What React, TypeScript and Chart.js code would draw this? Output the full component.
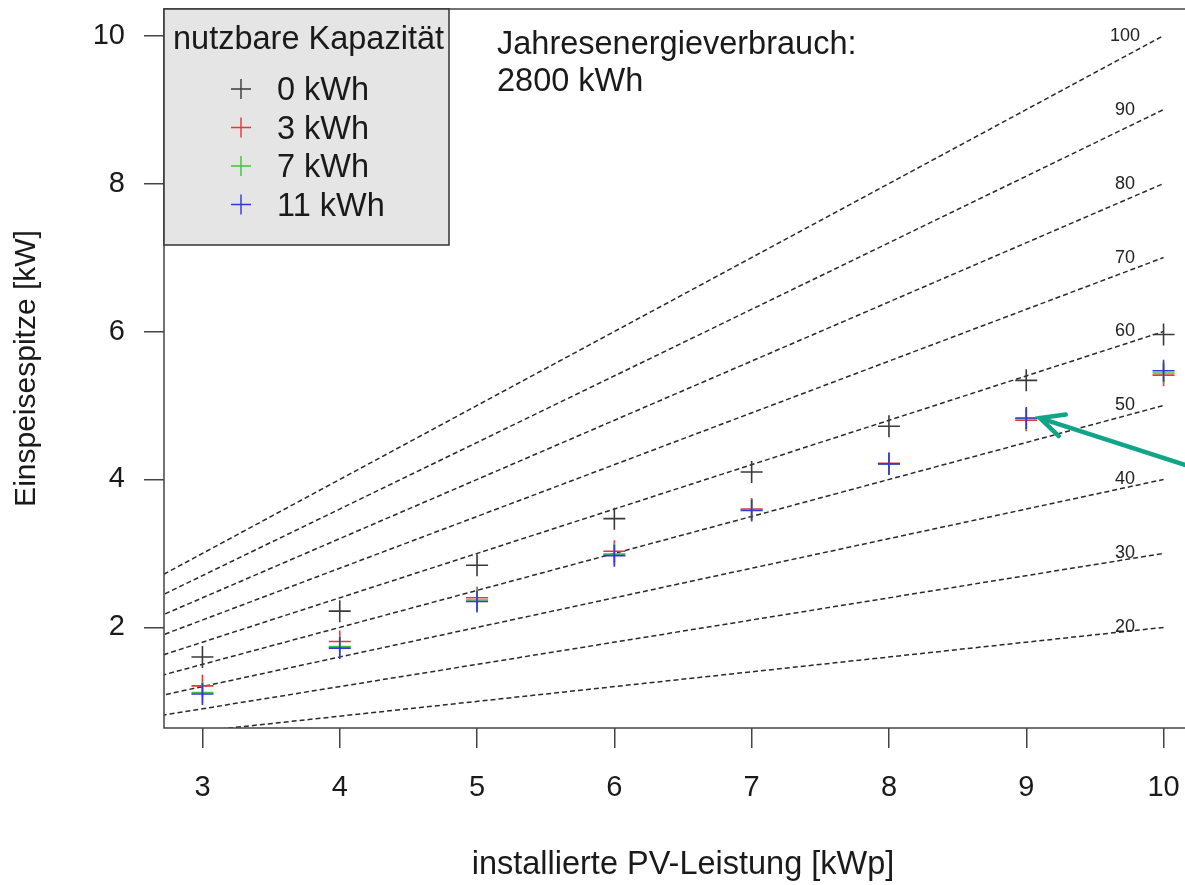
import { useEffect, useRef } from 'react';
import { Chart, registerables } from 'chart.js';

Chart.register(...registerables);

// ---------- data ----------
const PV_KWP = [3, 4, 5, 6, 7, 8, 9, 10];
const PEAK_0KWH = [1.6, 2.22, 2.84, 3.47, 4.1, 4.72, 5.34, 5.96];
const PEAK_3KWH = [1.21, 1.81, 2.4, 3.03, 3.6, 4.22, 4.8, 5.41];
const PEAK_7KWH = [1.12, 1.74, 2.37, 2.99, 3.59, 4.21, 4.82, 5.44];
const PEAK_11KWH = [1.1, 1.72, 2.35, 2.97, 3.58, 4.21, 4.83, 5.47];
const SHARE_PERCENT = [20, 30, 40, 50, 60, 70, 80, 90, 100];
const X_TICKS = [3, 4, 5, 6, 7, 8, 9, 10];
const Y_TICKS = [2, 4, 6, 8, 10];
const LEGEND_TITLE = 'nutzbare Kapazität';
const LEGEND_LABELS = ['0 kWh', '3 kWh', '7 kWh', '11 kWh'];
const NOTE_LINES = ['Jahresenergieverbrauch:', '2800 kWh'];
const X_TITLE = 'installierte PV-Leistung [kWp]';
const Y_TITLE = 'Einspeisespitze [kW]';
const SHARE_LABEL_X = 9.72;
const ARROW_FROM = [10.35, 4.08];
const ARROW_TO = [9.1, 4.83];

// ---------- style ----------
const FONT = "'Liberation Sans', Arial, Helvetica, sans-serif";
const SERIES_COLORS = ['#3a3a3a', '#e8343c', '#3cc43c', '#3434e0'];
const ARROW_COLOR = '#11a488';

const W = 1202;
const H = 885;

const toPts = (ys: number[]) => PV_KWP.map((x, i) => ({ x, y: ys[i] }));

const overlayPlugin = {
  id: 'overlay',
  afterDatasetsDraw(chart: any) {
    const { ctx, scales } = chart;
    const xs = scales.x;
    const ys = scales.y;
    ctx.save();
    ctx.font = `18px ${FONT}`;
    ctx.fillStyle = '#222';
    ctx.textAlign = 'center';
    ctx.textBaseline = 'middle';
    SHARE_PERCENT.forEach((p) => {
      ctx.fillText(String(p), xs.getPixelForValue(SHARE_LABEL_X), ys.getPixelForValue(p / 10));
    });
    ctx.restore();
  },
  afterDraw(chart: any) {
    const { ctx, chartArea, scales } = chart;
    const xs = scales.x;
    const ys = scales.y;
    ctx.save();
    // frame
    ctx.strokeStyle = '#444';
    ctx.lineWidth = 1.5;
    ctx.strokeRect(chartArea.left, chartArea.top, chartArea.right - chartArea.left, chartArea.bottom - chartArea.top);

    // legend box
    const lx = chartArea.left;
    const ly = chartArea.top;
    const lw = 449 - lx;
    const lh = 245 - ly;
    ctx.fillStyle = '#e5e5e5';
    ctx.fillRect(lx, ly, lw, lh);
    ctx.strokeStyle = '#333';
    ctx.lineWidth = 1.5;
    ctx.strokeRect(lx, ly, lw, lh);
    ctx.fillStyle = '#1a1a1a';
    ctx.font = `32.5px ${FONT}`;
    ctx.textAlign = 'left';
    ctx.textBaseline = 'alphabetic';
    ctx.fillText(LEGEND_TITLE, lx + 9, 49);
    LEGEND_LABELS.forEach((lab, i) => {
      const cy = 89 + i * 38.5;
      const cx = 241;
      ctx.strokeStyle = SERIES_COLORS[i];
      ctx.lineWidth = 1.4;
      ctx.beginPath();
      ctx.moveTo(cx - 10, cy);
      ctx.lineTo(cx + 10, cy);
      ctx.moveTo(cx, cy - 10);
      ctx.lineTo(cx, cy + 10);
      ctx.stroke();
      ctx.fillStyle = '#1a1a1a';
      ctx.fillText(lab, 277, cy + 11);
    });

    // note
    ctx.font = `32.5px ${FONT}`;
    ctx.fillStyle = '#1a1a1a';
    ctx.fillText(NOTE_LINES[0], 497, 54);
    ctx.fillText(NOTE_LINES[1], 497, 91);

    // arrow
    const x1 = xs.getPixelForValue(ARROW_FROM[0]);
    const y1 = ys.getPixelForValue(ARROW_FROM[1]);
    const x2 = xs.getPixelForValue(ARROW_TO[0]);
    const y2 = ys.getPixelForValue(ARROW_TO[1]);
    const ang = Math.atan2(y2 - y1, x2 - x1);
    ctx.strokeStyle = ARROW_COLOR;
    ctx.lineWidth = 4.5;
    ctx.lineCap = 'round';
    ctx.beginPath();
    ctx.moveTo(x1, y1);
    ctx.lineTo(x2, y2);
    const hl = 26;
    const ha = 0.45;
    ctx.moveTo(x2 - hl * Math.cos(ang - ha), y2 - hl * Math.sin(ang - ha));
    ctx.lineTo(x2, y2);
    ctx.lineTo(x2 - hl * Math.cos(ang + ha), y2 - hl * Math.sin(ang + ha));
    ctx.stroke();
    ctx.restore();
  },
};

export default function App() {
  const ref = useRef<HTMLCanvasElement | null>(null);
  useEffect(() => {
    if (!ref.current) return;
    const lineSets = SHARE_PERCENT.map((p) => ({
      type: 'line' as const,
      data: [
        { x: 0, y: 0 },
        { x: 10, y: p / 10 },
      ],
      showLine: true,
      borderColor: '#2a2a2a',
      borderWidth: 1.5,
      borderDash: [5, 3],
      pointRadius: 0,
      fill: false,
      order: 10,
    }));
    const seriesData = [PEAK_0KWH, PEAK_3KWH, PEAK_7KWH, PEAK_11KWH];
    const pointSets = seriesData.map((d, i) => ({
      type: 'scatter' as const,
      label: LEGEND_LABELS[i],
      data: toPts(d),
      pointStyle: 'cross',
      pointRadius: 11,
      pointBorderWidth: 1.6,
      borderColor: SERIES_COLORS[i],
      backgroundColor: SERIES_COLORS[i],
      order: 3 - i,
    }));
    const chart = new Chart(ref.current, {
      type: 'scatter',
      data: { datasets: [...lineSets, ...pointSets] as any },
      options: {
        animation: false,
        responsive: false,
        devicePixelRatio: 1,
        layout: { autoPadding: false, padding: { top: 9, right: 0, left: 0, bottom: 0 } },
        plugins: { legend: { display: false }, tooltip: { enabled: false } },
        scales: {
          x: {
            type: 'linear',
            min: 2.72,
            max: 10.28,
            afterBuildTicks: (s: any) => {
              s.ticks = X_TICKS.map((v) => ({ value: v }));
            },
            afterFit: (s: any) => {
              s.height = H - 728;
              s.paddingLeft = 0;
              s.paddingRight = 0;
              s.paddingTop = 0;
              s.paddingBottom = 0;
            },
            grid: { drawOnChartArea: false, drawTicks: true, tickLength: 20, color: '#444', lineWidth: 1.5 },
            border: { display: false },
            ticks: {
              padding: 23,
              color: '#1a1a1a',
              font: { size: 29, family: FONT },
              maxRotation: 0,
              autoSkip: false,
            },
            title: {
              display: true,
              text: X_TITLE,
              color: '#1a1a1a',
              font: { size: 32.5, family: FONT },
              padding: { top: 0, bottom: 0 },
            },
          },
          y: {
            type: 'linear',
            min: 0.64,
            max: 10.36,
            afterBuildTicks: (s: any) => {
              s.ticks = Y_TICKS.map((v) => ({ value: v }));
            },
            afterFit: (s: any) => {
              s.width = 164;
              s.paddingLeft = 0;
              s.paddingRight = 0;
              s.paddingTop = 0;
              s.paddingBottom = 0;
            },
            grid: { drawOnChartArea: false, drawTicks: true, tickLength: 20, color: '#444', lineWidth: 1.5 },
            border: { display: false },
            ticks: {
              padding: 19,
              color: '#1a1a1a',
              font: { size: 29, family: FONT },
              autoSkip: false,
            },
            title: {
              display: true,
              text: Y_TITLE,
              color: '#1a1a1a',
              font: { size: 30, family: FONT },
              padding: { top: 9, bottom: 0 },
            },
          },
        },
      },
      plugins: [overlayPlugin],
    });
    return () => chart.destroy();
  }, []);

  return (
    <div
      style={{
        position: 'absolute',
        left: 0,
        top: 0,
        width: 1185,
        height: H,
        overflow: 'hidden',
        background: '#fff',
      }}
    >
      <div style={{ position: 'relative', width: W, height: H }}>
        <canvas ref={ref} width={W} height={H} style={{ width: W, height: H, display: 'block' }} />
      </div>
    </div>
  );
}
